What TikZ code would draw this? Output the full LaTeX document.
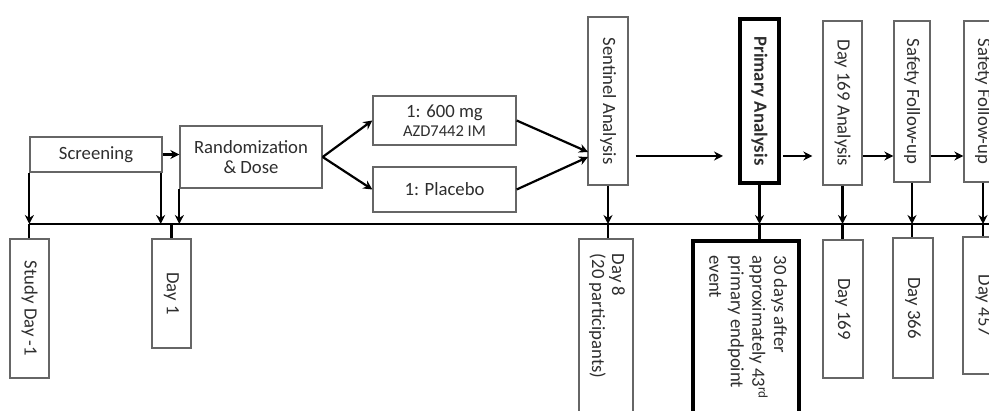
\documentclass[tikz,border=0pt]{standalone}
\usepackage{fontspec}
\setmainfont{Carlito}
\usetikzlibrary{arrows.meta}
\begin{document}
\begin{tikzpicture}[x=1pt,y=-1pt,
  every node/.style={font=\fontsize{18.7}{22}\selectfont, text=black!82},
  box/.style={draw=black!60, line width=1.3pt, fill=white, inner sep=0pt, align=center},
  bold box/.style={draw=black, line width=4pt, fill=white, inner sep=0pt, align=center},
  conn/.style={draw=black, line width=2.2pt},
  arr/.style={conn, -{Stealth[length=9pt,width=9pt]}},
  tline/.style={draw=black, line width=2.6pt}]
\path[use as bounding box, clip] (0,0) rectangle (989,411);

% timeline
\coordinate (tlL) at (29,224);
\coordinate (tlR) at (1000,224);
\coordinate (row) at (0,156);
\coordinate (hin1) at (588,152);
\coordinate (hin2) at (588,157);

% top boxes
\node[box, minimum width=132, minimum height=35] (scr) at (96,154.5) {Screening};
\node[box, minimum width=142, minimum height=62] (rnd) at (251,157) {Randomization\\[-2pt]\& Dose};
\node[box, minimum width=143, minimum height=49] (d600) at (444.5,120.5) {1: 600 mg\\[-3pt]{\fontsize{16.5}{18}\selectfont AZD7442 IM}};
\node[box, minimum width=143, minimum height=45] (plc) at (444.5,189.5) {1: Placebo};
\node[box, minimum width=40, minimum height=168] (sent) at (608,101) {\rotatebox{-90}{Sentinel Analysis}};
\node[bold box, minimum width=39, minimum height=164] (prim) at (759.5,101) {\rotatebox{-90}{\bfseries Primary Analysis}};
\node[box, minimum width=39, minimum height=164] (a169) at (842.5,103) {\rotatebox{-90}{Day 169 Analysis}};
\node[box, minimum width=36, minimum height=161] (sf1) at (912,101.5) {\rotatebox{-90}{Safety Follow-up}};
\node[box, minimum width=38, minimum height=161] (sf2) at (983,101.5) {\rotatebox{-90}{Safety Follow-up}};

% bottom boxes
\node[box, minimum width=39, minimum height=139] (sd1) at (29.5,308.5) {\rotatebox{-90}{Study Day -1}};
\node[box, minimum width=39, minimum height=109] (d1) at (171.5,293.5) {\rotatebox{-90}{Day 1}};
\node[box, minimum width=54, minimum height=212,
  label={[anchor=north, yshift=-12pt, font=\fontsize{18.7}{20}\selectfont]north:\rotatebox{-90}{\begin{tabular}{@{}l@{}}Day 8\\(20 participants)\end{tabular}}}]
  (d8) at (606,345) {};
\node[bold box, minimum width=106, minimum height=210,
  label={[anchor=north, yshift=-13pt, font=\fontsize{18.7}{21.5}\selectfont]north:\rotatebox{-90}{\begin{tabular}{@{}l@{}}30 days after\\approximately 43\textsuperscript{rd}\\primary endpoint\\event\end{tabular}}}]
  (d30) at (746,346) {};
\node[box, minimum width=40, minimum height=138] (d169) at (843,309) {\rotatebox{-90}{Day 169}};
\node[box, minimum width=40, minimum height=140] (d366) at (913,308) {\rotatebox{-90}{Day 366}};
\node[box, minimum width=40, minimum height=137] (d457) at (983,305.5) {\rotatebox{-90}{Day 457}};

% timeline
\draw[tline] (tlL) -- (tlR);

% left connectors
\draw[arr] (scr.south west) -- (scr.south west |- tlL);
\draw[arr] ([xshift=-2pt]scr.south east) -- ([xshift=-2pt]scr.south east |- tlL);
\draw[arr] (rnd.south west) -- (rnd.south west |- tlL);
\draw[arr] (scr.east) -- (scr.east -| rnd.west);
\draw[conn] (tlL) -- (tlL |- sd1.north);
\draw[conn] (d1.north |- tlL) -- (d1.north);

% branches
\draw[arr] (rnd.east) -- (d600.west);
\draw[arr] (rnd.east) -- (plc.west);
\draw[arr] (d600.east) -- (hin1);
\draw[arr] (plc.east) -- (hin2);

% horizontal flow
\draw[arr, shorten <=7pt, shorten >=15pt] (sent.east |- row) -- (prim.west |- row);
\draw[arr, shorten <=2pt, shorten >=10pt] (prim.east |- row) -- (a169.west |- row);
\draw[arr] (a169.east |- row) -- (sf1.west |- row);
\draw[arr] (sf1.east |- row) -- (sf2.west |- row);

% verticals through timeline
\foreach \t/\b in {sent/d8, prim/d30, a169/d169, sf1/d366, sf2/d457}{
  \draw[arr] (\t.south) -- (\t.south |- tlL);
  \draw[conn] (\t.south |- tlL) -- (\t.south |- \b.north);
}
\end{tikzpicture}
\end{document}
